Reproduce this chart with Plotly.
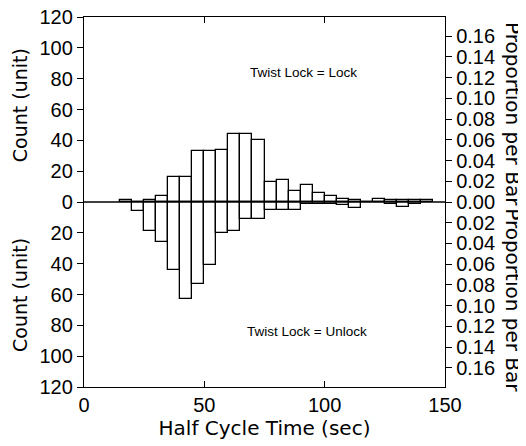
import plotly.graph_objects as go

# Bin left edges (sec), bin width 5
bin_starts = [15, 20, 25, 30, 35, 40, 45, 50, 55, 60, 65, 70, 75, 80, 85, 90, 95,
              100, 105, 110, 115, 120, 125, 130, 135, 140]
lock_counts = [1, 0, 1, 4, 16, 16, 33, 33, 34, 44, 44, 40, 13, 14, 7, 11, 6,
               4, 2, 1, 0, 2, 1, 1, 1, 1]
unlock_counts = [0, 6, 19, 26, 44, 63, 53, 41, 20, 19, 11, 11, 5, 5, 5, 1, 1,
                 1, 2, 4, 0, 0, 1, 3, 1, 0]
BIN_W = 5
count_ticks = [0, 20, 40, 60, 80, 100, 120]
prop_ticks = [0.00, 0.02, 0.04, 0.06, 0.08, 0.10, 0.12, 0.14, 0.16]
x_ticks = [0, 50, 100, 150]

total = sum(lock_counts) + sum(unlock_counts)
centers = [s + BIN_W / 2 for s in bin_starts]

TICK_FONT = dict(family="Liberation Sans, Arial", size=20, color="black")
TITLE_FONT = "DejaVu Sans"

fig = go.Figure()
bar_style = dict(color="white", line=dict(color="black", width=1.3))
fig.add_trace(go.Bar(x=centers, y=lock_counts, width=BIN_W, marker=bar_style,
                     name="Lock", showlegend=False))
fig.add_trace(go.Bar(x=centers, y=[-c for c in unlock_counts], width=BIN_W,
                     marker=bar_style, name="Unlock", showlegend=False))
# proportion axis carrier (invisible)
fig.add_trace(go.Scatter(x=centers, y=[c / total for c in lock_counts], yaxis="y2",
                         mode="markers", marker=dict(opacity=0), hoverinfo="skip",
                         showlegend=False))

cvals = [-v for v in count_ticks[::-1]] + count_ticks[1:]
ctext = [str(abs(v)) for v in cvals]
pvals = [-v for v in prop_ticks[::-1]] + prop_ticks[1:]
ptext = ["%.2f" % abs(v) for v in pvals]

# the page body adds an 8px offset, so the figure is 8px smaller
fig.update_layout(
    width=518, height=438,
    margin=dict(l=76, r=81, t=9, b=59, autoexpand=False),
    paper_bgcolor="white", plot_bgcolor="white",
    barmode="overlay", bargap=0,
    xaxis=dict(range=[0, 150], tickvals=x_ticks, ticks="inside", ticklen=6,
               tickcolor="black", showline=True, linecolor="black", linewidth=1.3,
               mirror="ticks", showgrid=False, zeroline=False, tickfont=TICK_FONT,
               title=dict(text="Half Cycle Time (sec)",
                          font=dict(family=TITLE_FONT, size=20, color="black"),
                          standoff=2)),
    yaxis=dict(range=[-120, 120], tickvals=cvals, ticktext=ctext, ticks="outside",
               ticklen=6, tickcolor="black", showline=True, linecolor="black",
               linewidth=1.3, showgrid=False, zeroline=False, tickfont=TICK_FONT,
               ticklabeloverflow="allow"),
    yaxis2=dict(range=[-120 / total, 120 / total], overlaying="y", side="right",
                tickvals=pvals, ticktext=ptext, ticks="outside", ticklen=6,
                tickcolor="black", showline=True, linecolor="black", linewidth=1.3,
                showgrid=False, zeroline=False, tickfont=TICK_FONT,
                ticklabeloverflow="allow"),
    font=dict(family="Liberation Sans, Arial", color="black"),
)

fig.add_shape(type="line", xref="paper", yref="y", x0=0, x1=1, y0=0, y1=0,
              line=dict(color="black", width=1.3), layer="above")

ann_font_l = dict(family=TITLE_FONT, size=19, color="black")
ann_font_r = dict(family=TITLE_FONT, size=20, color="black")
common = dict(xref="paper", yref="paper", showarrow=False, xanchor="center", yanchor="middle")
fig.add_annotation(text="Count (unit)", x=-0.177, y=0.762, textangle=-90, font=ann_font_l, **common)
fig.add_annotation(text="Count (unit)", x=-0.177, y=0.249, textangle=-90, font=ann_font_l, **common)
fig.add_annotation(text="Proportion per Bar", x=1.188, y=0.738, textangle=90, font=ann_font_r, **common)
fig.add_annotation(text="Proportion per Bar", x=1.188, y=0.235, textangle=90, font=ann_font_r,
                   bgcolor="white", **common)
fig.add_annotation(text="Twist Lock = Lock", x=91, y=84, xref="x", yref="y",
                   showarrow=False, font=dict(family="Liberation Sans, Arial", size=13.5))
fig.add_annotation(text="Twist Lock = Unlock", x=92.5, y=-84, xref="x", yref="y",
                   showarrow=False, font=dict(family="Liberation Sans, Arial", size=13.5))

fig.write_html("out.html")
